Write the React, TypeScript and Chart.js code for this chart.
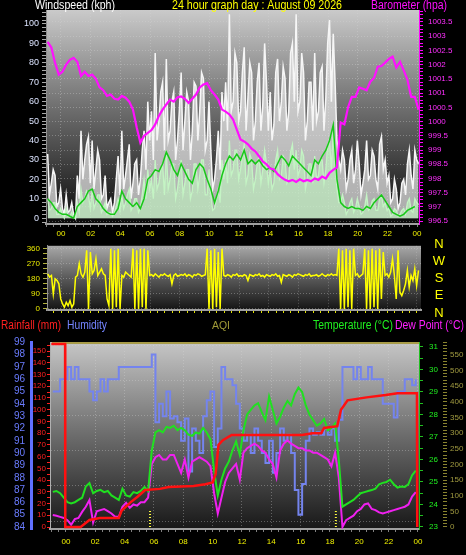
import { useEffect, useRef } from "react";
import { Chart, registerables } from "chart.js";
Chart.register(...registerables);

const FONT = '"Liberation Sans", Arial, sans-serif';

// ---------- titles / legends ----------
const titleLeft = "Windspeed (kph)";
const titleCenter = "24 hour graph day : August 09 2026";
const titleRight = "Barometer (hpa)";
const legendLabels = ["Rainfall (mm)", "Humidity", "AQI", "Temperature (°C)", "Dew Point (°C)"];
const directionLetters = ["N", "W", "S", "E", "N"];

// ---------- wind gust / speed (every 7.5 min, starting 23:06 previous day) ----------
const GUST_START_H = -0.9;
const GUST_STEP_H = 0.125;
const windGust = [
  33, 12, 18, 25, 22, 6, 8, 15,
  5, 2, 12, 3, 4, 8, 2, 0,
  22, 10, 45, 20, 30, 38, 42, 18,
  40, 15, 25, 35, 30, 10, 12, 22,
  5, 8, 10, 3, 8, 20, 32, 12,
  45, 15, 22, 30, 38, 10, 18, 28,
  30, 12, 20, 35, 45, 25, 60, 40,
  55, 30, 85, 40, 50, 65, 70, 35,
  82, 40, 45, 60, 65, 30, 40, 55,
  75, 35, 50, 65, 60, 30, 45, 70,
  68, 40, 55, 75, 72, 35, 40, 60,
  35, 15, 20, 30, 45, 25, 65, 50,
  70, 45, 105, 55, 60, 85, 80, 50,
  55, 75, 88, 45, 62, 80, 75, 40,
  50, 70, 80, 45, 58, 90, 70, 45,
  65, 40, 48, 75, 82, 50, 60, 78,
  72, 45, 55, 85, 90, 60, 105, 55,
  60, 85, 75, 40, 50, 70, 70, 45,
  85, 50, 55, 75, 78, 45, 62, 90,
  102, 60, 95, 70, 40, 30, 25, 35,
  30, 15, 20, 30, 35, 18, 25, 40,
  28, 12, 18, 25, 40, 20, 22, 35,
  32, 20, 15, 38, 42, 25, 30, 18,
  22, 8, 10, 20, 15, 5, 8, 18,
  20, 12, 28, 35, 22, 15, 35, 30,
  28,
];
const windSpeed = [
  10, 4, 5, 8, 8, 2, 2, 5,
  2, 0, 5, 1, 1, 3, 0, 0,
  8, 3, 15, 8, 10, 14, 12, 5,
  14, 5, 8, 12, 12, 3, 5, 8,
  2, 3, 3, 1, 3, 6, 10, 4,
  12, 5, 8, 12, 15, 4, 6, 10,
  10, 3, 5, 12, 20, 10, 25, 15,
  20, 10, 30, 15, 18, 25, 28, 12,
  35, 15, 20, 28, 28, 10, 15, 22,
  30, 12, 18, 25, 25, 10, 14, 28,
  28, 15, 22, 30, 30, 12, 12, 25,
  12, 4, 5, 10, 15, 8, 30, 20,
  30, 18, 40, 22, 25, 35, 35, 20,
  25, 32, 38, 18, 22, 33, 30, 15,
  20, 28, 32, 18, 25, 35, 28, 18,
  25, 15, 18, 30, 35, 20, 22, 32,
  30, 18, 20, 34, 38, 25, 35, 22,
  25, 35, 32, 15, 20, 28, 28, 18,
  32, 20, 22, 30, 30, 18, 25, 38,
  40, 25, 45, 30, 15, 8, 8, 12,
  8, 2, 4, 8, 10, 3, 5, 10,
  6, 2, 3, 6, 12, 4, 5, 9,
  10, 4, 4, 10, 12, 6, 8, 4,
  5, 1, 2, 5, 4, 1, 2, 4,
  5, 2, 8, 10, 4, 3, 10, 8,
  7,
];

// ---------- average wind (every 15 min) ----------
const AVG_START_H = -0.9;
const AVG_STEP_H = 0.25;
const windAverage = [
  10, 8, 5, 3, 2, 2, 1, 0, 6, 8, 10, 14, 15, 10, 8, 5, 3, 2, 2, 5,
  14, 10, 8, 6, 8, 5, 10, 20, 22, 25, 24, 28, 34, 30, 25, 22, 28, 24, 20, 18,
  25, 28, 26, 20, 15, 8, 14, 22, 28, 32, 30, 33, 30, 35, 28, 30, 28, 30, 27, 25,
  26, 24, 28, 32, 30, 27, 32, 30, 28, 26, 24, 22, 30, 28, 32, 35, 40, 48, 20, 8,
  6, 5, 6, 5, 5, 4, 6, 5, 8, 10, 12, 9, 6, 3, 2, 1, 2, 4, 5, 6,
];

// ---------- barometer (every 15 min) ----------
const BARO_START_H = -0.9;
const BARO_STEP_H = 0.25;
const baroHpa = [
  1002.8, 1002.6, 1002.06, 1001.65,
  1001.75, 1002.0, 1002.17, 1002.24,
  1002.1, 1001.6, 1001.75, 1001.6,
  1001.65, 1001.5, 1001.2, 1001.1,
  1000.9, 1000.95, 1000.8, 1000.77,
  1000.9, 1000.84, 1000.7, 1000.42,
  999.8, 999.26, 999.5, 999.6,
  999.7, 999.9, 1000.2, 1000.42,
  1000.6, 1000.77, 1000.7, 1000.85,
  1000.88, 1000.8, 1000.66, 1000.8,
  1000.95, 1001.2, 1001.3, 1001.35,
  1001.1, 1000.95, 1000.77, 1000.42,
  1000.35, 1000.25, 1000.07, 999.72,
  999.37, 999.3, 999.2, 999.05,
  998.95, 998.78, 998.6, 998.5,
  998.35, 998.32, 998.15, 998.04,
  997.95, 997.9, 997.95, 997.88,
  997.97, 997.9, 997.95, 997.9,
  998.0, 997.95, 998.07, 998.0,
  998.2, 998.3, 998.39, 999.97,
  999.9, 1000.5, 1000.87, 1000.87,
  1001.2, 1001.15, 1001.1, 1001.4,
  1001.53, 1001.93, 1001.95, 1002.07,
  1002.2, 1002.28, 1001.9, 1002.1,
  1001.8, 1001.47, 1000.87, 1000.87,
  1000.42,
];

// ---------- wind direction (every 7.5 min) ----------
const DIR_START_H = -0.9;
const DIR_STEP_H = 0.125;
const windDirection = [
  210, 190, 200, 90, 180, 170, 150, 60,
  30, 10, 40, 20, 50, 10, 30, 190,
  200, 270, 210, 190, 220, 350, 0, 340,
  210, 230, 300, 200, 220, 240, 210, 200,
  60, 20, 360, 0, 350, 10, 360, 0,
  200, 190, 220, 210, 200, 190, 360, 0,
  350, 0, 360, 10, 360, 0, 350, 200,
  205, 195, 210, 200, 190, 205, 200, 210,
  200, 195, 205, 150, 200, 210, 195, 200,
  205, 200, 210, 195, 205, 200, 190, 205,
  200, 210, 205, 195, 200, 205, 360, 0,
  350, 0, 360, 10, 340, 0, 360, 200,
  195, 205, 200, 190, 205, 200, 210, 195,
  200, 195, 205, 200, 170, 205, 200, 195,
  205, 200, 210, 195, 200, 190, 205, 200,
  195, 205, 200, 210, 195, 200, 160, 205,
  200, 195, 205, 200, 190, 205, 200, 210,
  205, 200, 195, 205, 200, 210, 195, 200,
  200, 205, 195, 200, 210, 200, 195, 205,
  200, 210, 200, 205, 200, 360, 0, 350,
  0, 360, 10, 350, 0, 360, 200, 210,
  190, 200, 210, 360, 0, 350, 0, 360,
  10, 350, 0, 360, 60, 340, 200, 210,
  190, 220, 300, 200, 60, 350, 100, 80,
  110, 150, 230, 130, 200, 170, 240, 140,
  230,
];

// ---------- lower panel (every 15 min) ----------
const CLIMATE_START_H = -0.9;
const CLIMATE_STEP_H = 0.25;
const humidity = [
  95, 95, 96, 96, 97, 96, 97, 96, 96, 96, 95, 94.3, 95, 96, 95, 96, 96, 96, 97, 97,
  97, 97, 97, 97, 97, 97, 97, 98, 92.5, 94, 93, 95, 92.8, 93, 92.5, 91, 92.8, 88.5, 92, 91,
  90, 93, 94.3, 95, 90.5, 92, 97, 96, 96, 95.5, 94, 92, 91, 91.5, 90, 92, 91, 90, 89.2, 91,
  88.4, 90, 92, 91, 91.5, 90, 87, 85, 87.5, 91, 92, 91.5, 91.7, 91.5, 92, 91.5, 92, 91, 92.7, 97,
  97, 97, 96, 97, 96, 96, 97, 96, 96, 96, 94, 94, 94, 92.9, 95, 95, 96, 96, 95.5, 96,
];
const temperature = [
  24.56, 24.6, 24.5, 24.3, 24.1, 24.05, 24.1, 24.2, 24.3, 24.8, 24.95, 24.5, 24.6, 24.65, 24.55, 24.6, 24.4, 24.3, 24.2, 24.7,
  24.4, 24.35, 24.55, 24.5, 24.6, 24.78, 24.6, 26.4, 27.2, 27.3, 27.2, 27.45, 27.4, 27.5, 27.3, 27.4, 27.3, 27.1, 27.05, 27.2,
  27.15, 27.4, 27.2, 26.9, 25.5, 24.4, 25.1, 25.6, 25.9, 26.4, 26.8, 26.2, 27.3, 28.0, 28.2, 28.4, 28.5, 28.1, 27.75, 28.8,
  28.2, 27.6, 27.9, 28.3, 28.6, 28.4, 28.9, 29.2, 29.0, 28.4, 28.0, 27.75, 27.5, 27.6, 27.8, 27.3, 27.4, 27.6, 26.0, 23.9,
  24.0, 24.1, 24.2, 24.35, 24.5, 24.55, 24.6, 24.64, 24.7, 24.9, 24.96, 25.0, 25.1, 24.9, 24.75, 24.8, 24.78, 24.9, 25.3, 25.5,
];
const dewPoint = [
  23.53, 23.5, 23.45, 23.4, 23.3, 23.1, 23.35, 23.4, 23.67, 23.9, 24.2, 23.2, 23.7, 23.75, 23.8, 23.7, 23.6, 23.45, 23.45, 23.9,
  24.07, 23.85, 24.0, 23.95, 24.1, 24.1, 24.3, 25.8, 26.1, 26.2, 26.0, 26.0, 26.2, 26.2, 25.8, 25.4, 26.0, 25.2, 25.9, 26.0,
  26.1, 26.0, 25.9, 25.7, 24.5, 23.6, 24.3, 25.0, 25.4, 25.6, 25.8, 25.1, 26.3, 26.5, 26.6, 26.7, 26.6, 26.4, 26.3, 26.0,
  25.8, 25.2, 26.4, 26.7, 26.85, 26.7, 26.6, 26.5, 26.5, 26.4, 26.4, 26.3, 26.3, 26.2, 26.1, 26.0, 25.7, 26.3, 25.2, 23.0,
  23.3, 23.4, 23.5, 23.7, 23.8, 24.0, 24.05, 23.8, 23.75, 23.65, 23.6, 23.65, 23.7, 23.75, 23.8, 23.85, 23.9, 24.0, 24.35, 24.55,
];
const rainHours = [
  -1.0, -0.06, -0.05, 1.0, 1.3, 1.6, 2.3, 3.6, 3.8, 4.4, 4.9, 5.4, 6.4, 7.0, 8.7, 9.5, 10.0,
  10.2, 10.4, 10.7, 11.3, 16.1, 16.8, 17.4, 17.6, 18.5, 18.75, 19.2, 20.5, 21.8, 22.6, 23.93, 23.95,
];
const rainMm = [
  156, 156, 0, 0, 3, 6, 7.7, 7.7, 14, 21, 26, 31.5, 32.5, 34, 35, 36.5, 38,
  45, 70, 74, 78.4, 78.4, 80, 80, 84.4, 86, 100, 108, 110.5, 112.5, 114, 114, 0,
];
const sunEventsH = [5.73, 18.4];

// ---------- helpers ----------
const series = (start: number, step: number, vals: number[]) =>
  vals.map((v, i) => ({ x: start + i * step, y: v }));
const pairs = (xs: number[], ys: number[]) => xs.map((x, i) => ({ x, y: ys[i] }));
const isEvenHour = (v: number) => {
  const r = Math.round(v);
  return Math.abs(v - r) < 1e-6 && r % 2 === 0;
};
const hourLabel = (v: number) => {
  if (!isEvenHour(v)) return "";
  const h = ((Math.round(v) % 24) + 24) % 24;
  return h < 10 ? "0" + h : String(h);
};
const isMult = (v: number, m: number) => Math.abs(v / m - Math.round(v / m)) < 1e-6;
const NONE = "rgba(0,0,0,0)";

const bgPlugin = (stops: [number, string][]) => ({
  id: "bg",
  beforeDraw(chart: any) {
    const { ctx, chartArea } = chart;
    const { left, top, right, bottom } = chartArea;
    const g = ctx.createLinearGradient(0, top, 0, bottom);
    stops.forEach(([o, c]) => g.addColorStop(o, c));
    ctx.save();
    ctx.fillStyle = g;
    ctx.fillRect(left, top, right - left, bottom - top);
    ctx.restore();
  },
});

const textPlugin = (items: { t: string; x: number; y: number; c: string; size: number; align?: CanvasTextAlign; w?: number }[]) => ({
  id: "texts",
  afterDraw(chart: any) {
    const ctx = chart.ctx;
    ctx.save();
    ctx.textBaseline = "middle";
    items.forEach((it) => {
      ctx.font = `${it.size}px ${FONT}`;
      ctx.fillStyle = it.c;
      ctx.textAlign = it.align || "left";
      if (it.w) ctx.fillText(it.t, it.x, it.y, it.w);
      else ctx.fillText(it.t, it.x, it.y);
    });
    ctx.restore();
  },
});

const base = {
  animation: false as const,
  responsive: false,
  maintainAspectRatio: false,
  events: [] as any[],
  plugins: { legend: { display: false }, tooltip: { enabled: false } },
  elements: { point: { radius: 0 }, line: { tension: 0 } },
};

function hourAxis(min: number, max: number, height: number, showLabels: boolean, pad: number, labelColor: string, tickColor: string, gridColor: string) {
  return {
    type: "linear" as const,
    position: "bottom" as const,
    min,
    max,
    afterFit: (s: any) => { s.height = height; },
    ticks: {
      display: showLabels,
      stepSize: 0.5,
      autoSkip: false,
      includeBounds: false,
      maxRotation: 0,
      minRotation: 0,
      padding: pad,
      color: labelColor,
      font: { size: 8, family: FONT },
      callback: (v: any) => hourLabel(Number(v)),
    },
    grid: {
      color: (c: any) => (c.tick && isEvenHour(c.tick.value) ? gridColor : NONE),
      tickColor,
      tickLength: 3,
      lineWidth: 1,
    },
    border: { color: "#a0a0a0", width: 2, dash: [1, 2] },
  };
}

export default function App() {
  const c1 = useRef<HTMLCanvasElement>(null);
  const c2 = useRef<HTMLCanvasElement>(null);
  const c3 = useRef<HTMLCanvasElement>(null);

  useEffect(() => {
    const charts: Chart[] = [];

    // ---------------- Panel 1: wind + barometer ----------------
    charts.push(
      new Chart(c1.current!, {
        type: "line",
        data: {
          datasets: [
            { data: series(BARO_START_H, BARO_STEP_H, baroHpa), yAxisID: "yB", borderColor: "#ff10ff", borderWidth: 2.2, fill: false },
            { data: series(AVG_START_H, AVG_STEP_H, windAverage), yAxisID: "yW", borderColor: "#18c818", borderWidth: 1.5, fill: false },
            { data: series(GUST_START_H, GUST_STEP_H, windSpeed), yAxisID: "yW", borderColor: "#c4f4c4", borderWidth: 1.3, fill: "origin", backgroundColor: "rgba(190,240,190,0.65)" },
            { data: series(GUST_START_H, GUST_STEP_H, windGust), yAxisID: "yW", borderColor: "#f6f6f6", borderWidth: 1.5, fill: "origin", backgroundColor: "rgba(238,238,238,0.7)" },
          ],
        },
        options: {
          ...base,
          layout: { padding: { top: 10, left: 0, right: 0, bottom: 0 } },
          scales: {
            x: hourAxis(-1.01, 24.13, 16, true, 2, "#f0f000", "#808080", "rgba(215,215,215,0.35)"),
            yW: {
              type: "linear", position: "left", min: -3, max: 107.2,
              afterFit: (s: any) => { s.width = 46; },
              ticks: {
                stepSize: 2, autoSkip: false, includeBounds: false, padding: 3,
                color: "#dce4ff", font: { size: 9, family: FONT },
                callback: (v: any) => (isMult(Number(v), 10) && v >= 0 && v <= 100 ? String(v) : ""),
              },
              grid: { drawOnChartArea: false, tickColor: "#a8a8a8", tickLength: 4 },
              border: { color: "#909090" },
            },
            yB: {
              type: "linear", position: "right", min: 996.4, max: 1003.92,
              afterFit: (s: any) => { s.width = 47; },
              ticks: {
                stepSize: 0.125, autoSkip: false, includeBounds: false, padding: 5,
                color: "#ff30ff", font: { size: 8, family: FONT },
                callback: (v: any) => (isMult(Number(v), 0.5) ? String(Math.round(Number(v) * 10) / 10) : ""),
              },
              grid: {
                color: (c: any) => (c.tick && isMult(c.tick.value, 0.5) ? "rgba(215,215,215,0.35)" : NONE),
                tickColor: "#ff00ff", tickLength: 4,
              },
              border: { color: "#ff00ff", dash: [1, 2] },
            },
          },
        },
        plugins: [
          bgPlugin([[0, "#cacaca"], [0.45, "#707070"], [1, "#0a0a0a"]]),
          textPlugin([
            { t: titleLeft, x: 35, y: 6, c: "#ffffff", size: 12, w: 80 },
            { t: titleCenter, x: 257, y: 6, c: "#ffff00", size: 12, align: "center", w: 170 },
            { t: titleRight, x: 371, y: 6, c: "#ff10ff", size: 12, w: 76 },
          ]),
        ],
      } as any)
    );

    // ---------------- Panel 2: wind direction ----------------
    charts.push(
      new Chart(c2.current!, {
        type: "line",
        data: {
          datasets: [
            { data: series(DIR_START_H, DIR_STEP_H, windDirection), yAxisID: "yD", borderColor: "#ffff00", borderWidth: 1.5, fill: false },
          ],
        },
        options: {
          ...base,
          layout: { padding: { top: 5, left: 0, right: 45, bottom: 0 } },
          scales: {
            x: hourAxis(-0.95, 24.27, 8, false, 2, "#f0f000", "#e0e000", "rgba(215,215,215,0.3)"),
            yD: {
              type: "linear", position: "left", min: -6, max: 377,
              afterFit: (s: any) => { s.width = 47; },
              ticks: {
                stepSize: 30, autoSkip: false, includeBounds: false, padding: 3,
                color: "#e8e800", font: { size: 8, family: FONT },
                callback: (v: any) => (isMult(Number(v), 90) ? String(v) : ""),
              },
              grid: {
                color: (c: any) => (c.tick && isMult(c.tick.value, 90) ? "rgba(215,215,215,0.35)" : NONE),
                tickColor: "#b0b040", tickLength: 4,
              },
              border: { color: "#909090", dash: [1, 2] },
            },
          },
        },
        plugins: [
          bgPlugin([[0, "#a8a8a8"], [0.5, "#5a5a5a"], [1, "#141414"]]),
          textPlugin(
            directionLetters.map((t, i) => ({ t, x: 439, y: 6 + i * 17.3, c: "#ffff00", size: 13, align: "center" as CanvasTextAlign }))
          ),
        ],
      } as any)
    );

    // ---------------- Panel 3: rain / humidity / temperature ----------------
    const sunPlugin = {
      id: "sun",
      afterDatasetsDraw(chart: any) {
        const { ctx, chartArea, scales } = chart;
        ctx.save();
        ctx.strokeStyle = "#ffff40";
        ctx.lineWidth = 2;
        ctx.setLineDash([1, 2]);
        sunEventsH.forEach((h) => {
          const x = scales.x.getPixelForValue(h);
          ctx.beginPath();
          ctx.moveTo(x, chartArea.bottom - 18);
          ctx.lineTo(x, chartArea.bottom);
          ctx.stroke();
        });
        ctx.restore();
      },
      beforeDatasetsDraw(chart: any) {
        const { ctx, chartArea } = chart;
        ctx.save();
        ctx.strokeStyle = "#a89c48";
        ctx.lineWidth = 2;
        ctx.beginPath();
        ctx.moveTo(chartArea.left + 2, chartArea.top + 1);
        ctx.lineTo(chartArea.right, chartArea.top + 1);
        ctx.stroke();
        ctx.restore();
      },
    };

    charts.push(
      new Chart(c3.current!, {
        type: "line",
        data: {
          datasets: [
            { data: pairs(rainHours, rainMm), yAxisID: "yR", borderColor: "#ff1010", borderWidth: 2.5, fill: false },
            { data: series(CLIMATE_START_H, CLIMATE_STEP_H, temperature), yAxisID: "yT", borderColor: "#20e020", borderWidth: 2, fill: false },
            { data: series(CLIMATE_START_H, CLIMATE_STEP_H, dewPoint), yAxisID: "yT", borderColor: "#f020f0", borderWidth: 2, fill: false },
            { data: series(CLIMATE_START_H, CLIMATE_STEP_H, humidity), yAxisID: "yH", borderColor: "#7484ee", borderWidth: 2, fill: false, stepped: true },
          ],
        },
        options: {
          ...base,
          layout: { padding: { top: 26, left: 0, right: 0, bottom: 0 } },
          scales: {
            x: hourAxis(-1.09, 24.07, 26, true, 5, "#f0f000", "#808080", "rgba(215,215,215,0.35)"),
            yH: {
              type: "linear", position: "left", weight: 2, min: 83.84, max: 99.02,
              afterFit: (s: any) => { s.width = 31; },
              ticks: {
                stepSize: 1, autoSkip: false, includeBounds: false, padding: 6,
                color: "#6a7cff", font: { size: 10, family: FONT },
              },
              grid: { drawOnChartArea: false, drawTicks: false },
              border: { color: "#6070ff", width: 3 },
            },
            yR: {
              type: "linear", position: "left", weight: 1, min: -1.7, max: 157.7,
              afterFit: (s: any) => { s.width = 19; },
              ticks: {
                stepSize: 5, autoSkip: false, includeBounds: false, padding: 1,
                color: "#ff2020", font: { size: 8, family: FONT },
                callback: (v: any) => (isMult(Number(v), 10) && v <= 150 ? String(v) : ""),
              },
              grid: {
                color: (c: any) => (c.tick && isMult(c.tick.value - 5, 30) ? "rgba(215,215,215,0.35)" : NONE),
                tickColor: "#ff2020", tickLength: 3,
              },
              border: { color: "#b0b0b0", dash: [1, 2] },
            },
            yT: {
              type: "linear", position: "right", weight: 1, min: 22.91, max: 31.22,
              afterFit: (s: any) => { s.width = 24; },
              ticks: {
                stepSize: 0.5, autoSkip: false, includeBounds: false, padding: 6,
                color: "#20f020", font: { size: 8, family: FONT },
                callback: (v: any) => (isMult(Number(v), 1) ? String(v) : ""),
              },
              grid: { drawOnChartArea: false, tickColor: "#20c020", tickLength: 4 },
              border: { color: "#20c020" },
            },
            yA: {
              type: "linear", position: "right", weight: 2, min: -6.4, max: 591.6,
              afterFit: (s: any) => { s.width = 23; },
              ticks: {
                stepSize: 10, autoSkip: false, includeBounds: false, padding: 3,
                color: "#a09a40", font: { size: 8, family: FONT },
                callback: (v: any) => (isMult(Number(v), 50) ? String(v) : ""),
              },
              grid: { drawOnChartArea: false, tickColor: "#8a8430", tickLength: 4 },
              border: { display: false },
            },
          },
        },
        plugins: [
          bgPlugin([[0, "#c6c6c6"], [0.5, "#6c6c6c"], [1, "#181818"]]),
          sunPlugin,
          textPlugin([
            { t: legendLabels[0], x: 1, y: 10, c: "#ff2020", size: 12, w: 60 },
            { t: legendLabels[1], x: 67, y: 10, c: "#7484ff", size: 12, w: 40 },
            { t: legendLabels[2], x: 212, y: 10, c: "#a09a38", size: 11, w: 18 },
            { t: legendLabels[3], x: 313, y: 10, c: "#20f020", size: 12, w: 80 },
            { t: legendLabels[4], x: 395, y: 10, c: "#ff20ff", size: 12, w: 69 },
          ]),
        ],
      } as any)
    );

    return () => charts.forEach((c) => c.destroy());
  }, []);

  return (
    <div style={{ position: "fixed", left: 0, top: 0, width: 466, height: 555, background: "#000", overflow: "hidden" }}>
      <canvas ref={c1} width={466} height={240} style={{ position: "absolute", left: 0, top: 0, width: 466, height: 240 }} />
      <canvas ref={c2} width={466} height={80} style={{ position: "absolute", left: 0, top: 238, width: 466, height: 80 }} />
      <canvas ref={c3} width={466} height={239} style={{ position: "absolute", left: 0, top: 316, width: 466, height: 239 }} />
    </div>
  );
}
